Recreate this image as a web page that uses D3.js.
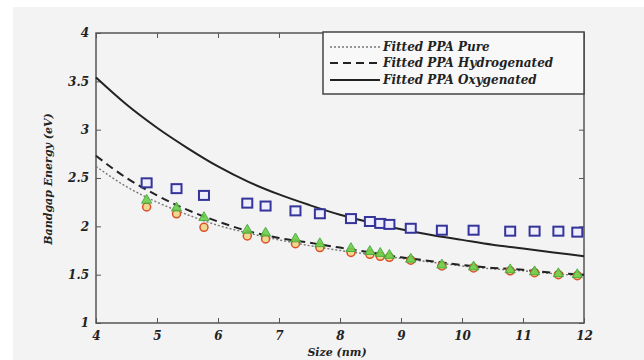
<!DOCTYPE html>
<html>
<head>
<meta charset="utf-8">
<script src="https://cdn.jsdelivr.net/npm/d3@7"></script>
<style>
  body { margin: 0; background: #fff; }
  svg { display: block; }
</style>
</head>
<body>
<div id="chart"></div>
<script>
// measured sizes (nm) and band gaps (eV)
var sizes = [4.83, 5.32, 5.77, 6.48, 6.78, 7.27, 7.67, 8.18, 8.49, 8.66, 8.81, 9.16, 9.67, 10.19, 10.79, 11.19, 11.58, 11.89];
var oxygenated = [2.45, 2.39, 2.32, 2.24, 2.21, 2.16, 2.13, 2.08, 2.05, 2.03, 2.02, 1.98, 1.96, 1.96, 1.95, 1.95, 1.95, 1.94];
var hydrogenated = [2.27, 2.19, 2.09, 1.96, 1.93, 1.87, 1.82, 1.77, 1.74, 1.72, 1.70, 1.66, 1.60, 1.58, 1.55, 1.53, 1.51, 1.50];
var pure = [2.20, 2.13, 1.99, 1.90, 1.87, 1.82, 1.78, 1.73, 1.71, 1.69, 1.68, 1.65, 1.59, 1.57, 1.54, 1.52, 1.50, 1.49];

// fitted curves
var fitX = [4, 4.5, 5, 5.5, 6, 6.5, 7, 7.5, 8, 8.5, 9, 9.5, 10, 10.5, 11, 11.5, 12];
var fitOxy = [3.54, 3.26, 3.02, 2.81, 2.62, 2.46, 2.33, 2.22, 2.12, 2.04, 1.97, 1.91, 1.86, 1.81, 1.77, 1.73, 1.69];
var fitHyd = [2.73, 2.50, 2.32, 2.17, 2.05, 1.95, 1.88, 1.83, 1.78, 1.73, 1.68, 1.64, 1.60, 1.57, 1.55, 1.52, 1.50];
var fitPure = [2.62, 2.41, 2.25, 2.12, 2.01, 1.93, 1.86, 1.80, 1.75, 1.71, 1.67, 1.63, 1.59, 1.56, 1.54, 1.51, 1.49];

var xTicks = [4, 5, 6, 7, 8, 9, 10, 11, 12];
var yTicks = [1, 1.5, 2, 2.5, 3, 3.5, 4];
var legendLabels = ["Fitted PPA Pure", "Fitted PPA Hydrogenated", "Fitted PPA Oxygenated"];

var FONT = "DejaVu Serif, serif";

var W = 644, H = 360;
var margin = {top: 33, right: 60, bottom: 37, left: 96},
    width = W - margin.left - margin.right,
    height = H - margin.top - margin.bottom;

var svg = d3.select("#chart").append("svg")
    .attr("width", W)
    .attr("height", H);

svg.append("rect")
    .attr("x", 13).attr("y", 7)
    .attr("width", W - 13).attr("height", H - 7)
    .attr("fill", "#f3f3f3");

var g = svg.append("g")
    .attr("transform", "translate(" + margin.left + "," + margin.top + ")");

var x = d3.scaleLinear().domain([4, 12]).range([0, width]);
var y = d3.scaleLinear().domain([1, 4]).range([height, 0]);

function serif(sel, size) {
  sel.attr("font-family", FONT)
    .style("font-family", FONT)
    .style("font-weight", "bold")
    .style("font-style", "italic")
    .style("font-size", size + "px")
    .attr("fill", "#222");
}

// axes with inward ticks, like matlab
var axisColor = "#555";
function styleAxis(sel) {
  sel.attr("font-family", null);
  sel.select(".domain").remove();
  sel.selectAll(".tick line").attr("stroke", axisColor).attr("stroke-width", 1);
  sel.selectAll(".tick text").call(serif, 12);
}

g.append("g")
    .attr("transform", "translate(0," + height + ")")
    .call(d3.axisBottom(x).tickValues(xTicks).tickSizeInner(-5).tickSizeOuter(0).tickPadding(8).tickFormat(d3.format("d")))
    .call(styleAxis);

g.append("g")
    .call(d3.axisTop(x).tickValues(xTicks).tickSizeInner(-5).tickSizeOuter(0).tickFormat(""))
    .call(styleAxis);

g.append("g")
    .call(d3.axisLeft(y).tickValues(yTicks).tickSizeInner(-5).tickSizeOuter(0).tickPadding(7).tickFormat(function(d) { return d; }))
    .call(styleAxis);

g.append("g")
    .attr("transform", "translate(" + width + ",0)")
    .call(d3.axisRight(y).tickValues(yTicks).tickSizeInner(-5).tickSizeOuter(0).tickFormat(""))
    .call(styleAxis);

g.append("rect")
    .attr("width", width).attr("height", height)
    .attr("fill", "none")
    .attr("stroke", axisColor)
    .attr("stroke-width", 1.5);

// fitted lines
var line = d3.line()
    .x(function(d) { return x(d[0]); })
    .y(function(d) { return y(d[1]); })
    .curve(d3.curveMonotoneX);

var fits = [
  {vals: fitPure, stroke: "#777", dash: "2,2", w: 1.4},
  {vals: fitHyd, stroke: "#222", dash: "8,5", w: 2},
  {vals: fitOxy, stroke: "#222", dash: null, w: 2}
];

fits.forEach(function(f) {
  g.append("path")
    .datum(d3.zip(fitX, f.vals))
    .attr("fill", "none")
    .attr("stroke", f.stroke)
    .attr("stroke-width", f.w)
    .attr("stroke-dasharray", f.dash)
    .attr("d", line);
});

// markers
g.selectAll(".oxy").data(d3.zip(sizes, oxygenated)).enter()
  .append("rect")
    .attr("x", function(d) { return x(d[0]) - 5; })
    .attr("y", function(d) { return y(d[1]) - 4.5; })
    .attr("width", 10).attr("height", 9)
    .attr("fill", "#eef")
    .attr("stroke", "#34349a")
    .attr("stroke-width", 2);

g.selectAll(".pure").data(d3.zip(sizes, pure)).enter()
  .append("circle")
    .attr("cx", function(d) { return x(d[0]); })
    .attr("cy", function(d) { return y(d[1]); })
    .attr("r", 4)
    .attr("fill", "#f0d890")
    .attr("stroke", "#d9502a")
    .attr("stroke-width", 1.5);

var tri = d3.symbol().type(d3.symbolTriangle).size(45);
g.selectAll(".hyd").data(d3.zip(sizes, hydrogenated)).enter()
  .append("path")
    .attr("transform", function(d) { return "translate(" + x(d[0]) + "," + y(d[1]) + ")"; })
    .attr("d", tri)
    .attr("fill", "#6ccf4a")
    .attr("stroke", "#3fa83a")
    .attr("stroke-width", 1)
    .attr("opacity", 0.9);

// axis titles
svg.append("text")
    .attr("transform", "translate(52,179) rotate(-90)")
    .attr("text-anchor", "middle")
    .call(serif, 11)
    .text("Bandgap Energy (eV)");

svg.append("text")
    .attr("x", margin.left + width / 2 - 3)
    .attr("y", 356)
    .attr("text-anchor", "middle")
    .call(serif, 11)
    .text("Size (nm)");

// legend
var lg = svg.append("g").attr("transform", "translate(323,32)");
lg.append("rect")
    .attr("width", 261).attr("height", 62)
    .attr("fill", "#f8f8f8")
    .attr("stroke", "#444")
    .attr("stroke-width", 1.5);

var rowY = [15, 31, 48];
fits.forEach(function(f, i) {
  lg.append("line")
    .attr("x1", 7).attr("x2", 57)
    .attr("y1", rowY[i]).attr("y2", rowY[i])
    .attr("stroke", f.stroke)
    .attr("stroke-width", f.w)
    .attr("stroke-dasharray", f.dash);
  lg.append("text")
    .attr("x", 60)
    .attr("y", rowY[i] + 4)
    .call(serif, 12)
    .text(legendLabels[i]);
});
</script>
</body>
</html>
